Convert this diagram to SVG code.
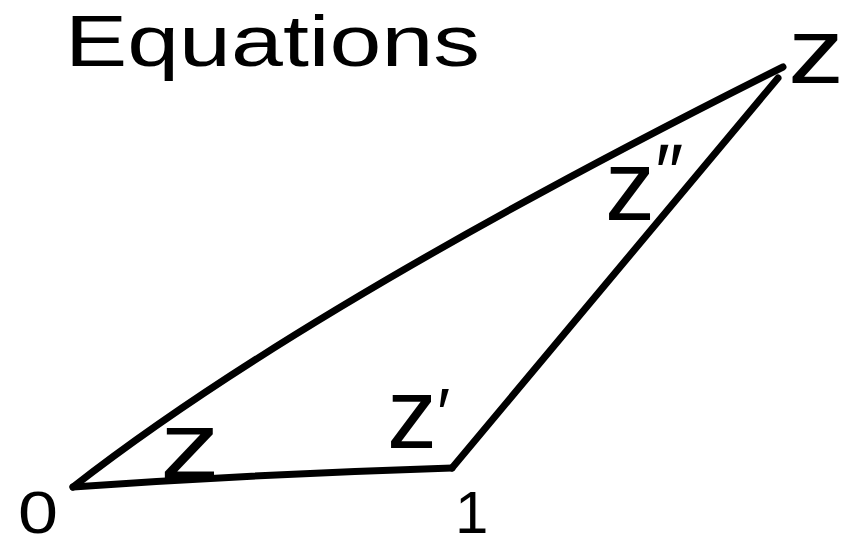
<svg xmlns="http://www.w3.org/2000/svg" width="848" height="546" viewBox="0 0 848 546">
  <style>
    .lbl { font-family: "Liberation Sans", Arial, sans-serif; fill: #000; }
    .edge { fill: none; stroke: #000; stroke-width: 7; stroke-linecap: round; stroke-linejoin: round; }
  </style>
  <rect width="848" height="546" fill="#fff"/>
  <g id="title">
    <text class="lbl" x="65" y="66" font-size="72" textLength="415" lengthAdjust="spacingAndGlyphs">Equations</text>
  </g>
  <g id="connectors">
    <path class="edge" d="M73,487 Q305,306 783,67"/>
    <path class="edge" d="M73,487 Q260,474 452,468"/>
    <path class="edge" d="M452,468 L778,78"/>
  </g>
  <g id="node-0">
    <text class="lbl" x="18" y="533" font-size="60" textLength="40" lengthAdjust="spacingAndGlyphs">0</text>
    <text class="lbl" x="160" y="478" font-size="95" textLength="60" lengthAdjust="spacingAndGlyphs">z</text>
  </g>
  <g id="node-1">
    <text class="lbl" x="455" y="533" font-size="60">1</text>
    <text class="lbl" x="387" y="448" font-size="100">z<tspan font-size="70" dy="-10">′</tspan></text>
  </g>
  <g id="node-z">
    <text class="lbl" x="788" y="83" font-size="92" textLength="56" lengthAdjust="spacingAndGlyphs">z</text>
    <text class="lbl" x="605" y="220" font-size="100">z<tspan font-size="80" dy="-20">″</tspan></text>
  </g>
</svg>
